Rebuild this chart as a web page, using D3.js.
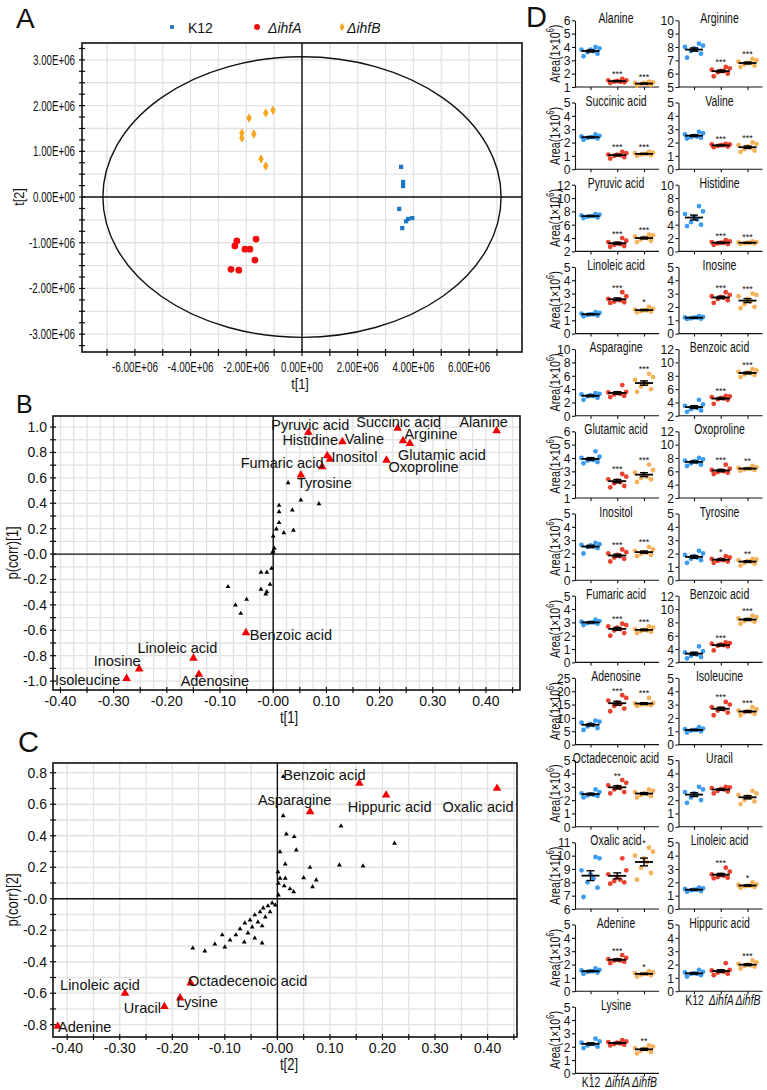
<!DOCTYPE html>
<html>
<head>
<meta charset="utf-8">
<script src="https://cdn.jsdelivr.net/npm/d3@7"></script>
<style>
  body { margin: 0; background: #fff; }
  svg text { font-family: "Liberation Sans", Arial, sans-serif; fill: #111; }
</style>
</head>
<body>
<svg id="fig" width="767" height="1090"></svg>
<script>
"use strict";

// ---------- A: PCA scores (t[1], t[2]) ----------
const aK12 = [[3.56e6, 0.66e6], [3.63e6, 0.33e6], [3.63e6, 0.24e6], [3.49e6, -0.26e6],
  [3.74e6, -0.53e6], [3.81e6, -0.48e6], [3.96e6, -0.46e6], [3.6e6, -0.68e6]];
const aIhfA = [[-1.65e6, -0.92e6], [-2.34e6, -0.96e6], [-2.41e6, -1.07e6], [-2.05e6, -1.14e6],
  [-1.87e6, -1.14e6], [-1.69e6, -1.38e6], [-2.55e6, -1.58e6], [-2.27e6, -1.6e6]];
const aIhfB = [[-1.04e6, 1.9e6], [-1.3e6, 1.84e6], [-1.9e6, 1.73e6], [-2.16e6, 1.4e6],
  [-1.73e6, 1.38e6], [-2.16e6, 1.29e6], [-1.47e6, 0.83e6], [-1.3e6, 0.68e6]];
const aEllipse = [7.15e6, 3.07e6]; // Hotelling T2 radii
const aXTicks = [-6e6, -4e6, -2e6, 0, 2e6, 4e6, 6e6];
const aYTicks = [-3e6, -2e6, -1e6, 0, 1e6, 2e6, 3e6];
const groupNames = ["K12", "ΔihfA", "ΔihfB"];

// ---------- B: S-plot p(corr)[1] vs t[1] ----------
const bNames = ["Pyruvic acid", "Histidine", "Valine", "Inositol", "Fumaric acid", "Tyrosine",
  "Succinic acid", "Arginine", "Glutamic acid", "Oxoproline", "Alanine",
  "Benzoic acid", "Linoleic acid", "Inosine", "Isoleucine", "Adenosine"];
const bT = [0.066, 0.1015, 0.13, 0.1066, 0.092, 0.052, 0.234, 0.244, 0.257, 0.213, 0.42,
  -0.0513, -0.15, -0.252, -0.2756, -0.1397];
const bCorr = [0.958, 0.774, 0.884, 0.746, 0.687, 0.622, 0.99, 0.892, 0.871, 0.738, 0.971,
  -0.62, -0.82, -0.905, -0.979, -0.947];
const bOtherT = [0.028, 0.086, 0.052, 0.011, 0.011, 0.036, 0.011, 0.006, 0.02, 0.038, 0.0,
  0.002, 0.0, -0.001, -0.003, -0.012, -0.023, -0.006, -0.023, -0.012, -0.014, -0.05,
  -0.085, -0.071, -0.061];
const bOtherCorr = [0.561, 0.396, 0.425, 0.383, 0.333, 0.346, 0.247, 0.197, 0.168, 0.187, 0.142,
  0.045, 0.024, 0.013, -0.113, -0.144, -0.144, -0.239, -0.278, -0.297, -0.315, -0.357,
  -0.257, -0.402, -0.467];

// ---------- C: S-plot p(corr)[2] vs t[2] ----------
const cNames = ["Benzoic acid", "Asparagine", "Hippuric acid", "Oxalic acid", "Adenine",
  "Linoleic acid", "Uracil", "Lysine", "Octadecenoic acid"];
const cT = [0.156, 0.0623, 0.207, 0.418, -0.418, -0.29, -0.215, -0.185, -0.165];
const cCorr = [0.733, 0.552, 0.658, 0.701, -0.81, -0.60, -0.685, -0.63, -0.535];
const cOtherT = [0.011, 0.011, 0.017, 0.032, 0.036, 0.005, 0.015, 0.062, 0.121, 0.223, 0.118,
  0.163, 0.001, 0.005, 0.015, 0.05, 0.074, 0.002, 0.013, 0.024, 0.031, 0.067, 0.002,
  -0.01, -0.018, -0.027, -0.004, -0.014, -0.033, -0.023, -0.043, -0.052, -0.037, -0.062,
  -0.029, -0.048, -0.071, -0.056, -0.079, -0.043, -0.09, -0.063, -0.119, -0.1, -0.138,
  -0.161, -0.105, -0.029];
const cOtherCorr = [0.775, 0.527, 0.411, 0.394, 0.309, 0.298, 0.22, 0.199, 0.462, 0.352, 0.214,
  0.207, 0.171, 0.13, 0.13, 0.133, 0.119, 0.098, 0.081, 0.062, 0.044, 0.076, 0.023,
  -0.027, -0.046, -0.059, -0.04, -0.084, -0.084, -0.116, -0.103, -0.135, -0.148, -0.154,
  -0.173, -0.18, -0.192, -0.218, -0.23, -0.25, -0.262, -0.275, -0.288, -0.307, -0.332,
  -0.313, -0.23, -0.281];

// ---------- D: peak areas (1x10^6), [K12, ΔihfA, ΔihfB] ----------
const alanine = [[3.3, 3.5, 3.6, 3.7, 3.8, 3.8, 3.9, 4.0], [1.3, 1.35, 1.4, 1.4, 1.45, 1.5, 1.5, 1.6], [1.1, 1.15, 1.2, 1.25, 1.3, 1.3, 1.35, 1.4]];
const arginine = [[7.2, 7.5, 7.7, 7.8, 7.9, 8.0, 8.1, 8.25], [5.8, 6.0, 6.1, 6.2, 6.2, 6.3, 6.4, 6.5], [6.5, 6.6, 6.7, 6.8, 6.8, 6.9, 7.0, 7.1]];
const succinic = [[2.2, 2.3, 2.35, 2.4, 2.4, 2.45, 2.5, 2.6], [0.8, 0.9, 1.0, 1.05, 1.1, 1.1, 1.2, 1.3], [1.0, 1.05, 1.1, 1.15, 1.15, 1.2, 1.25, 1.3]];
const valine = [[2.3, 2.35, 2.4, 2.45, 2.5, 2.6, 2.7, 2.8], [1.65, 1.7, 1.75, 1.8, 1.8, 1.85, 1.85, 1.9], [1.3, 1.4, 1.5, 1.6, 1.7, 1.8, 1.9, 2.0]];
const pyruvic = [[7.0, 7.1, 7.2, 7.3, 7.3, 7.4, 7.5, 7.6], [2.7, 2.8, 3.0, 3.1, 3.2, 3.4, 3.6, 4.0], [3.4, 3.6, 3.8, 4.0, 4.1, 4.2, 4.4, 4.5]];
const histidine = [[3.8, 4.0, 4.4, 4.8, 5.2, 5.6, 6.0, 6.8], [1.0, 1.1, 1.2, 1.3, 1.3, 1.4, 1.5, 1.7], [1.1, 1.2, 1.25, 1.3, 1.3, 1.35, 1.4, 1.5]];
const linoleic = [[1.3, 1.35, 1.4, 1.45, 1.45, 1.5, 1.55, 1.6], [2.3, 2.35, 2.4, 2.5, 2.55, 2.6, 2.8, 3.1], [1.6, 1.65, 1.7, 1.75, 1.75, 1.8, 1.85, 2.0]];
const inosine = [[1.1, 1.12, 1.15, 1.2, 1.2, 1.22, 1.25, 1.3], [2.3, 2.5, 2.6, 2.7, 2.75, 2.8, 2.9, 3.1], [1.9, 2.0, 2.2, 2.4, 2.6, 2.8, 2.9, 3.0]];
const asparagine = [[2.4, 2.7, 2.9, 3.0, 3.1, 3.2, 3.3, 3.4], [2.8, 3.0, 3.2, 3.3, 3.4, 3.5, 3.6, 4.6], [3.6, 4.0, 4.4, 4.8, 5.0, 5.4, 5.8, 6.3]];
const benzoic = [[2.6, 2.8, 3.0, 3.2, 3.3, 3.5, 3.7, 4.4], [3.8, 4.4, 4.5, 4.6, 4.7, 4.8, 4.9, 5.0], [7.8, 8.1, 8.2, 8.4, 8.5, 8.6, 8.8, 9.0]];
const glutamic = [[3.6, 3.7, 3.8, 3.85, 3.9, 4.0, 4.1, 4.5], [1.8, 1.9, 2.1, 2.2, 2.3, 2.4, 2.6, 2.8], [2.2, 2.4, 2.5, 2.6, 2.8, 2.9, 3.1, 3.5]];
const oxoproline = [[6.8, 7.0, 7.2, 7.4, 7.5, 7.6, 7.8, 8.0], [5.6, 5.8, 5.9, 6.0, 6.1, 6.2, 6.4, 7.0], [6.1, 6.2, 6.3, 6.4, 6.4, 6.5, 6.6, 6.8]];
const inositol = [[2.0, 2.4, 2.5, 2.55, 2.6, 2.65, 2.7, 2.8], [1.4, 1.6, 1.7, 1.8, 1.9, 2.0, 2.1, 2.3], [1.8, 1.9, 2.0, 2.05, 2.1, 2.2, 2.3, 2.5]];
const tyrosine = [[1.3, 1.5, 1.6, 1.7, 1.8, 1.9, 2.0, 2.2], [1.3, 1.4, 1.45, 1.5, 1.55, 1.6, 1.7, 1.8], [1.1, 1.25, 1.3, 1.4, 1.45, 1.5, 1.55, 1.6]];
const fumaric = [[2.8, 2.9, 2.95, 3.0, 3.0, 3.05, 3.1, 3.2], [2.0, 2.2, 2.4, 2.5, 2.6, 2.7, 2.8, 2.9], [2.2, 2.3, 2.35, 2.4, 2.45, 2.5, 2.6, 2.7]];
const adenosine = [[5.5, 6.2, 6.8, 7.3, 7.8, 8.2, 8.6, 9.0], [12.5, 13.5, 14.5, 15.2, 15.8, 16.5, 17.5, 18.5], [14.5, 14.8, 15.0, 15.1, 15.2, 15.4, 15.6, 17.5]];
const isoleucine = [[0.9, 1.0, 1.05, 1.1, 1.1, 1.15, 1.2, 1.3], [2.2, 2.4, 2.55, 2.65, 2.7, 2.8, 3.0, 3.2], [2.2, 2.3, 2.4, 2.45, 2.5, 2.55, 2.65, 2.8]];
const octadecenoic = [[2.2, 2.3, 2.35, 2.4, 2.45, 2.5, 2.6, 2.8], [2.5, 2.6, 2.8, 2.9, 3.0, 3.1, 3.3, 3.5], [2.2, 2.3, 2.4, 2.45, 2.5, 2.6, 2.7, 2.8]];
const uracil = [[1.8, 2.0, 2.2, 2.4, 2.5, 2.6, 2.8, 3.0], [2.5, 2.65, 2.7, 2.8, 2.85, 2.9, 2.95, 3.0], [1.7, 1.9, 2.0, 2.2, 2.3, 2.4, 2.5, 2.7]];
const oxalic = [[6.9, 7.6, 8.0, 8.3, 8.6, 8.9, 9.8, 9.9], [7.9, 8.0, 8.1, 8.2, 8.4, 8.6, 8.9, 9.8], [8.2, 8.7, 9.1, 9.5, 9.8, 10.0, 10.3, 10.6]];
const adenine = [[1.3, 1.4, 1.45, 1.5, 1.5, 1.55, 1.6, 1.7], [2.1, 2.2, 2.3, 2.3, 2.35, 2.4, 2.5, 2.7], [1.1, 1.2, 1.25, 1.3, 1.3, 1.35, 1.4, 1.5]];
const hippuric = [[1.1, 1.2, 1.3, 1.3, 1.35, 1.4, 1.45, 1.6], [1.2, 1.3, 1.4, 1.45, 1.5, 1.55, 1.6, 2.1], [1.7, 1.85, 1.9, 1.95, 2.0, 2.05, 2.15, 2.3]];
const lysine = [[1.9, 2.0, 2.1, 2.2, 2.2, 2.3, 2.4, 2.6], [2.1, 2.15, 2.2, 2.25, 2.3, 2.35, 2.4, 2.5], [1.5, 1.6, 1.7, 1.8, 1.85, 1.9, 2.0, 2.1]];

const dNames = ["Alanine", "Arginine", "Succinic acid", "Valine", "Pyruvic acid", "Histidine",
  "Linoleic acid", "Inosine", "Asparagine", "Benzoic acid", "Glutamic acid", "Oxoproline",
  "Inositol", "Tyrosine", "Fumaric acid", "Benzoic acid", "Adenosine", "Isoleucine",
  "Octadecenoic acid", "Uracil", "Oxalic acid", "Linoleic acid", "Adenine", "Hippuric acid", "Lysine"];
const dData = [alanine, arginine, succinic, valine, pyruvic, histidine, linoleic, inosine,
  asparagine, benzoic, glutamic, oxoproline, inositol, tyrosine, fumaric, benzoic, adenosine,
  isoleucine, octadecenoic, uracil, oxalic, linoleic, adenine, hippuric, lysine];
// [min, max, step] of each y axis
const dAxis = [[1, 6, 1], [5, 10, 1], [0, 5, 1], [0, 5, 1], [2, 12, 2], [0, 10, 2], [0, 5, 1],
  [0, 5, 1], [0, 10, 2], [2, 12, 2], [1, 6, 1], [2, 12, 2], [0, 5, 1], [0, 5, 1], [0, 5, 1],
  [2, 12, 2], [0, 25, 5], [0, 5, 1], [0, 5, 1], [0, 5, 1], [6, 11, 1], [0, 5, 1], [0, 5, 1],
  [0, 5, 1], [0, 5, 1]];
const dStars = [["", "***", "***"], ["", "***", "***"], ["", "***", "***"], ["", "***", "***"],
  ["", "***", "***"], ["", "***", "***"], ["", "***", "*"], ["", "***", "***"], ["", "", "***"],
  ["", "***", "***"], ["", "***", "***"], ["", "***", "**"], ["", "***", "***"], ["", "*", "**"],
  ["", "***", "***"], ["", "***", "***"], ["", "***", "***"], ["", "***", "***"], ["", "**", ""],
  ["", "", ""], ["", "", "*"], ["", "***", "*"], ["", "***", "*"], ["", "", "***"], ["", "", "**"]];

// ---------- layout ----------
const GRID = "#e2e2e2";
const INK = "#111";
const aColors = ["#1b77c4", "#f20c0c", "#f5a61e"];
const dColors = ["#3c9cf0", "#e8412c", "#f5b25a"];

const svg = d3.select("#fig");

// squeeze text horizontally (the figure uses a condensed face)
function condense(sel, f) {
  sel.each(function () {
    const t = d3.select(this);
    const x = +t.attr("x") || 0, y = +t.attr("y") || 0;
    const prev = t.attr("transform") || "";
    t.attr("x", 0).attr("y", 0)
      .attr("transform", `${prev} translate(${x},${y}) scale(${f},1)`);
  });
  return sel;
}

function letter(t, x, y, size) {
  svg.append("text").attr("x", x).attr("y", y).attr("font-size", size).text(t);
}

function lines(g, data, f) {
  return g.append("g").selectAll("line").data(data).join("line").each(function (d) {
    const [x1, y1, x2, y2] = f(d);
    d3.select(this).attr("x1", x1).attr("y1", y1).attr("x2", x2).attr("y2", y2);
  });
}

// ================= Panel A =================
(function () {
  const x = d3.scaleLinear().domain([-7.9e6, 7.9e6]).range([82, 522]);
  const y = d3.scaleLinear().domain([-3.39e6, 3.37e6]).range([352, 43]);
  const g = svg.append("g");
  const [L, R] = x.range(), [B, T] = y.range();

  lines(g, d3.range(-7, 8).map(i => i * 1e6), d => [x(d), T, x(d), B])
    .attr("stroke", GRID).attr("stroke-width", 1.3);
  lines(g, d3.range(-6, 7).map(i => i * 0.5e6), d => [L, y(d), R, y(d)])
    .attr("stroke", GRID).attr("stroke-width", 1.3);

  lines(g, [0], d => [x(0), T, x(0), B]).attr("stroke", INK).attr("stroke-width", 1.4);
  lines(g, [0], d => [L, y(0), R, y(0)]).attr("stroke", INK).attr("stroke-width", 1.4);

  g.append("ellipse")
    .attr("cx", x(0)).attr("cy", y(0))
    .attr("rx", x(aEllipse[0]) - x(0)).attr("ry", y(0) - y(aEllipse[1]))
    .attr("fill", "none").attr("stroke", INK).attr("stroke-width", 1.4);

  g.append("rect").attr("x", L).attr("y", T).attr("width", R - L).attr("height", B - T)
    .attr("fill", "none").attr("stroke", INK).attr("stroke-width", 1.6);

  // ticks
  lines(g, d3.range(-13, 14).map(i => i * 0.25e6), d => [L - 3, y(d), L + 3, y(d)])
    .attr("stroke", INK).attr("stroke-width", 1.2);
  lines(g, d3.range(-7, 8).map(i => i * 1e6), d => [x(d), B - 3, x(d), B + 4])
    .attr("stroke", INK).attr("stroke-width", 1.2);

  const fmt = v => v === 0 ? "0.00E+00" : (v / 1e6).toFixed(2) + "E+06";
  g.append("g").selectAll("text").data(aYTicks).join("text")
    .attr("x", 75).attr("y", d => y(d) + 5).attr("text-anchor", "end")
    .attr("font-size", 15).attr("textLength", d => fmt(d).length > 8 ? 46 : 42)
    .attr("lengthAdjust", "spacingAndGlyphs").text(fmt);
  g.append("g").selectAll("text").data(aXTicks).join("text")
    .attr("x", d => x(d)).attr("y", 372).attr("text-anchor", "middle")
    .attr("font-size", 15).attr("textLength", d => fmt(d).length > 8 ? 46 : 42)
    .attr("lengthAdjust", "spacingAndGlyphs").text(fmt);

  condense(g.append("text").attr("x", 300).attr("y", 389).attr("text-anchor", "middle")
    .attr("font-size", 15.5).text("t[1]"), 0.82);
  condense(g.append("text").attr("transform", `translate(24,${y(0)}) rotate(-90)`)
    .attr("text-anchor", "middle").attr("font-size", 15.5).text("t[2]"), 0.82);

  const shapes = [d3.symbolSquare, d3.symbolCircle, d3.symbolDiamond];
  const sizes = [18, 36, 26];
  [aK12, aIhfA, aIhfB].forEach((pts, k) => {
    g.append("g").selectAll("path").data(pts).join("path")
      .attr("transform", d => `translate(${x(d[0])},${y(d[1])})`)
      .attr("d", d3.symbol(shapes[k], sizes[k])).attr("fill", aColors[k]);
  });

  // legend
  const lx = [172, 257, 342], tx = [188, 268, 347];
  groupNames.forEach((n, k) => {
    g.append("path").attr("transform", `translate(${lx[k]},27)`)
      .attr("d", d3.symbol(shapes[k], sizes[k] * 0.8)).attr("fill", aColors[k]);
    g.append("text").attr("x", tx[k]).attr("y", 32.5).attr("font-size", 14)
      .attr("font-style", k ? "italic" : "normal").text(n);
  });
})();

// ================= Panels B, C: S-plots =================
function sPlot(o) {
  const { x, y } = o;
  const g = svg.append("g");
  const [L, R] = x.range(), [B, T] = y.range();

  lines(g, o.gridX, d => [x(d), T, x(d), B]).attr("stroke", GRID).attr("stroke-width", 1.3);
  lines(g, o.gridY, d => [L, y(d), R, y(d)]).attr("stroke", GRID).attr("stroke-width", 1.3);
  lines(g, [0], d => [x(0), T, x(0), B]).attr("stroke", INK).attr("stroke-width", 1.4);
  lines(g, [0], d => [L, y(0), R, y(0)]).attr("stroke", INK).attr("stroke-width", 1.4);
  g.append("rect").attr("x", L).attr("y", T).attr("width", R - L).attr("height", B - T)
    .attr("fill", "none").attr("stroke", INK).attr("stroke-width", 1.6);

  lines(g, o.tickX, d => [x(d), B - 3, x(d), B + 3]).attr("stroke", INK).attr("stroke-width", 1.2);
  lines(g, o.tickY, d => [L - 3, y(d), L + 3, y(d)]).attr("stroke", INK).attr("stroke-width", 1.2);

  const fx = v => Math.abs(v) < 1e-9 ? "-0.00" : v.toFixed(2);
  const fy = v => Math.abs(v) < 1e-9 ? "-0.0" : v.toFixed(1);
  g.append("g").selectAll("text").data(o.labelX).join("text")
    .attr("x", d => x(d)).attr("y", B + 16).attr("text-anchor", "middle")
    .attr("font-size", 14).text(fx);
  g.append("g").selectAll("text").data(o.labelY).join("text")
    .attr("x", L - 6).attr("y", d => y(d) + 5).attr("text-anchor", "end")
    .attr("font-size", 14).text(fy);

  condense(g.append("text").attr("x", 289).attr("y", B + 33).attr("text-anchor", "middle")
    .attr("font-size", 16).text(o.xTitle), 0.82);
  condense(g.append("text").attr("transform", `translate(18,${(T + B) / 2}) rotate(-90)`)
    .attr("text-anchor", "middle").attr("font-size", 16).text(o.yTitle), 0.82);

  g.append("g").selectAll("path").data(o.otherT).join("path")
    .attr("transform", (d, i) => `translate(${x(d)},${y(o.otherCorr[i])})`)
    .attr("d", d3.symbol(d3.symbolTriangle, 10)).attr("fill", "#000");
  g.append("g").selectAll("path").data(o.t).join("path")
    .attr("transform", (d, i) => `translate(${x(d)},${y(o.corr[i])})`)
    .attr("d", d3.symbol(d3.symbolTriangle, 32)).attr("fill", "#f00000");
  g.append("g").selectAll("text").data(o.names).join("text")
    .attr("x", (d, i) => x(o.t[i]) + o.dx[i]).attr("y", (d, i) => y(o.corr[i]) + o.dy[i] + 5.3)
    .attr("text-anchor", "middle").attr("font-size", 14.5).attr("fill", "#1a1a1a").text(d => d);
}

const steps = (a, b, s) => d3.range(Math.round(a / s), Math.round(b / s) + 1).map(i => +(i * s).toFixed(3));

sPlot({
  x: d3.scaleLinear().domain([-0.414, 0.464]).range([53, 520]),
  y: d3.scaleLinear().domain([-1.07, 1.087]).range([690, 416]),
  gridX: steps(-0.4, 0.45, 0.025), gridY: steps(-1, 1, 0.1),
  tickX: steps(-0.4, 0.45, 0.05), tickY: steps(-1, 1, 0.1),
  labelX: steps(-0.4, 0.4, 0.1), labelY: steps(-1, 1, 0.2),
  xTitle: "t[1]", yTitle: "p(corr)[1]",
  names: bNames, t: bT, corr: bCorr, otherT: bOtherT, otherCorr: bOtherCorr,
  dx: [2, -17, 22, 24.5, -40, 23.5, 1, 28, 32, 37, -13, 45, -16, -22, -39, 16],
  dy: [-8, -16, -3, -3, -4, 8, -7, -7, 11, 6, -9, 2, -11, -8, 1, 6]
});

sPlot({
  x: d3.scaleLinear().domain([-0.427, 0.456]).range([53, 517]),
  y: d3.scaleLinear().domain([-0.878, 0.862]).range([1037, 763]),
  gridX: steps(-0.4, 0.45, 0.05), gridY: steps(-0.8, 0.8, 0.1),
  tickX: steps(-0.4, 0.45, 0.05), tickY: steps(-0.8, 0.8, 0.1),
  labelX: steps(-0.4, 0.4, 0.1), labelY: steps(-0.8, 0.8, 0.2),
  xTitle: "t[2]", yTitle: "p(corr)[2]",
  names: cNames, t: cT, corr: cCorr, otherT: cOtherT, otherCorr: cOtherCorr,
  dx: [-35, -15.5, 3.5, -19, 27, -25, -22, 17, 57],
  dy: [-9, -12, 12, 18, 0, -9, 1, 4, -2]
});

// ================= Panel D: dot plots =================
(function () {
  const colX = [575, 678.5];
  const base0 = 87, pitch = 82.2, plotH = 66.7, axisLen = 84;
  const jitter = [-7, 7, -3, 3, 0, -9, 9, 5];

  dNames.forEach((name, i) => {
    const col = i % 2, row = Math.floor(i / 2);
    const x0 = colX[col];
    const base = base0 + row * pitch;
    const [lo, hi, step] = dAxis[i];
    const y = d3.scaleLinear().domain([lo, hi]).range([base, base - plotH]);
    const gx = d3.scalePoint().domain(groupNames).range([x0 + 15.5, x0 + 69]);
    const g = svg.append("g");

    const ya = g.append("g").attr("transform", `translate(${x0},0)`)
      .call(d3.axisLeft(y).tickValues(d3.range(lo, hi + step / 2, step))
        .tickSize(3).tickSizeOuter(0).tickPadding(1.5).tickFormat(d3.format("d")));
    ya.selectAll("text").attr("font-size", 13.5).attr("fill", INK);
    condense(ya.selectAll("text"), 0.9);
    ya.selectAll("line,path").attr("stroke", INK).attr("stroke-width", 1.1);

    g.append("line").attr("x1", x0).attr("x2", x0 + axisLen).attr("y1", base).attr("y2", base)
      .attr("stroke", INK).attr("stroke-width", 1.1);
    const showX = i + 2 >= dNames.length;
    const xa = g.append("g").attr("transform", `translate(0,${base})`)
      .call(d3.axisBottom(gx).tickSize(3).tickSizeOuter(0).tickPadding(0)
        .tickFormat(d => showX ? d : ""));
    xa.select(".domain").remove();
    xa.selectAll("line").attr("stroke", INK).attr("stroke-width", 1.1);
    xa.selectAll("text").attr("font-size", 14.5).attr("fill", INK)
      .attr("font-style", d => d === "K12" ? "normal" : "italic");
    condense(xa.selectAll("text"), 0.72);

    condense(g.append("text").attr("x", x0 + 41).attr("y", base - plotH + 3)
      .attr("text-anchor", "middle").attr("font-size", 15).text(name), 0.7);

    if (col === 0) {
      const t = g.append("text")
        .attr("transform", `translate(559.5,${base - plotH / 2}) rotate(-90) scale(0.74,1)`)
        .attr("text-anchor", "middle").attr("font-size", 14.5);
      t.append("tspan").text("Area(1×10");
      t.append("tspan").attr("font-size", 10).attr("dy", -6).text("6");
      t.append("tspan").attr("dy", 6).text(")");
    }

    dData[i].forEach((vals, k) => {
      const cx = gx(groupNames[k]);
      g.append("g").selectAll("circle").data(vals).join("circle")
        .attr("cx", (d, j) => cx + jitter[j % jitter.length]).attr("cy", d => y(d))
        .attr("r", 2.4).attr("fill", dColors[k]);
      const m = d3.mean(vals), se = d3.deviation(vals) / Math.sqrt(vals.length);
      const bar = g.append("g").attr("stroke", "#000").attr("stroke-width", 1.4);
      bar.append("line").attr("x1", cx - 9).attr("x2", cx + 9).attr("y1", y(m)).attr("y2", y(m))
        .attr("stroke-width", 1.8);
      bar.append("line").attr("x1", cx).attr("x2", cx).attr("y1", y(m - se)).attr("y2", y(m + se));
      bar.append("line").attr("x1", cx - 4).attr("x2", cx + 4).attr("y1", y(m - se)).attr("y2", y(m - se));
      bar.append("line").attr("x1", cx - 4).attr("x2", cx + 4).attr("y1", y(m + se)).attr("y2", y(m + se));
      if (dStars[i][k]) {
        g.append("text").attr("x", cx).attr("y", y(d3.max(vals)) - 1.5)
          .attr("text-anchor", "middle").attr("font-size", 9).attr("fill", "#333")
          .text(dStars[i][k]);
      }
    });
  });
})();

letter("A", 16, 28, 28);
letter("B", 16, 413, 25);
letter("C", 18, 752, 29);
letter("D", 526, 27, 29);
</script>
</body>
</html>
